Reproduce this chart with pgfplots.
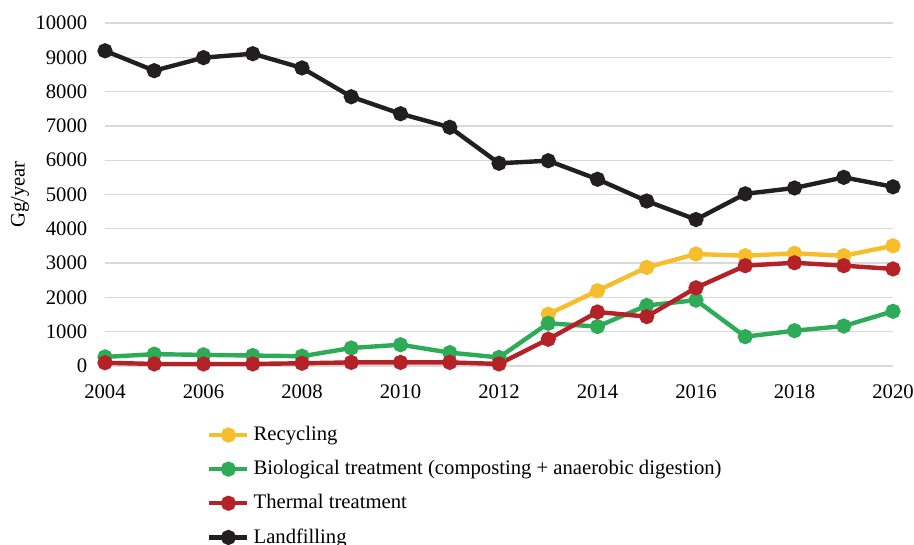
\documentclass[border=0pt]{standalone}
\usepackage{fontspec}
\setmainfont{Liberation Serif}
\usepackage{pgfplots}
\pgfplotsset{compat=1.18}
\definecolor{cRec}{HTML}{F6BE2C}
\definecolor{cBio}{HTML}{2EAB57}
\definecolor{cThe}{HTML}{B42127}
\definecolor{cLan}{HTML}{231F20}
\definecolor{cGrid}{HTML}{D9D9D9}
\begin{document}
\fontsize{15.5}{18.6}\selectfont
\begin{tikzpicture}
\begin{axis}[
  scale only axis,
  width=591pt, height=257.25pt,
  xmin=2004, xmax=2020, ymin=0, ymax=10000,
  xtick={2004,2006,...,2020},
  ytick={0,1000,...,10000},
  scaled ticks=false,
  axis line style={draw=none},
  tick style={draw=none},
  ymajorgrids,
  grid style={cGrid, line width=1pt},
  major tick length=0pt,
  /pgf/number format/1000 sep={},
  /pgf/number format/assume math mode=true,
  tick label style={font=\fontsize{15.5}{18.6}\selectfont, text=black},
  xticklabel style={yshift=-9pt},
  yticklabel style={xshift=-8pt},
  ylabel={Gg/year},
  ylabel style={font=\fontsize{15.5}{18.6}\selectfont},
  every axis y label/.style={at={(rel axis cs:0,0.5)}, rotate=90, anchor=center, yshift=63.75pt},
  clip=false,
  legend style={at={(0.1294,-0.175)}, anchor=north west, draw=none, fill=none,
    font=\fontsize{15.5}{18.6}\selectfont, inner sep=0pt, row sep=12.5pt,
    nodes={inner xsep=3pt, inner ysep=0pt}},
  legend cell align=left,
  legend image code/.code={\draw[mark repeat=2,mark phase=2] plot coordinates {(0pt,0pt)(14.25pt,0pt)(28.5pt,0pt)};},
  every axis plot/.append style={line width=3.3pt, mark=*, mark size=4pt, mark options={solid}},
]
\coordinate (BL) at (rel axis cs:0,0);
\coordinate (TR) at (rel axis cs:1,1);
\addplot[color=cRec] coordinates {(2013,1510)(2014,2195)(2015,2875)(2016,3265)(2017,3215)(2018,3285)(2019,3215)(2020,3505)};
\addlegendentry{Recycling}
\addplot[color=cBio] coordinates {(2004,265)(2005,345)(2006,325)(2007,305)(2008,285)(2009,525)(2010,620)(2011,390)(2012,250)(2013,1245)(2014,1150)(2015,1765)(2016,1920)(2017,855)(2018,1030)(2019,1165)(2020,1595)};
\addlegendentry{Biological treatment (composting + anaerobic digestion)}
\addplot[color=cThe] coordinates {(2004,95)(2005,60)(2006,60)(2007,60)(2008,80)(2009,105)(2010,105)(2011,105)(2012,60)(2013,780)(2014,1575)(2015,1440)(2016,2280)(2017,2925)(2018,3010)(2019,2925)(2020,2830)};
\addlegendentry{Thermal treatment}
\addplot[color=cLan] coordinates {(2004,9190)(2005,8610)(2006,8990)(2007,9105)(2008,8690)(2009,7850)(2010,7355)(2011,6960)(2012,5910)(2013,5985)(2014,5445)(2015,4810)(2016,4270)(2017,5020)(2018,5190)(2019,5500)(2020,5225)};
\addlegendentry{Landfilling}
\end{axis}
\pgfresetboundingbox
\useasboundingbox ([xshift=-78.75pt,yshift=-133.5pt]BL) rectangle ([xshift=15.75pt,yshift=17.25pt]TR);
\end{tikzpicture}
\end{document}
